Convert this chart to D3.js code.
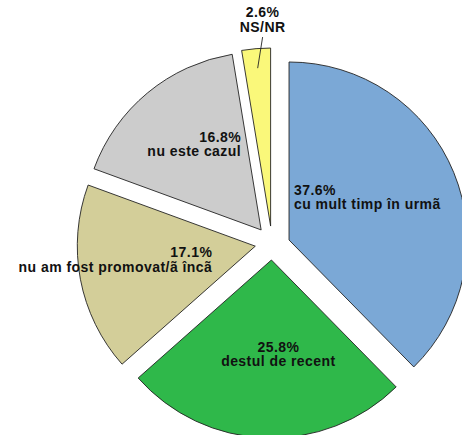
<!DOCTYPE html>
<html>
<head>
<meta charset="utf-8">
<script src="https://cdn.jsdelivr.net/npm/d3@7"></script>
<style>
  html, body { margin: 0; padding: 0; background: #fff; }
  svg { display: block; }
  text { font-family: "Liberation Sans", Arial, Helvetica, sans-serif; font-weight: bold; font-size: 14px; letter-spacing: 0.45px; fill: #111; }
</style>
</head>
<body>
<svg id="chart" width="462" height="435"></svg>
<script>
// ---- data ----
const categories = ["cu mult timp în urmã", "destul de recent", "nu am fost promovat/ã încã", "nu este cazul", "NS/NR"];
const values = [37.6, 25.8, 17.1, 16.8, 2.6];
const valueLabels = ["37.6%", "25.8%", "17.1%", "16.8%", "2.6%"];
const colors = ["#7BA8D6", "#2FB84A", "#D3CE99", "#CCCCCC", "#FAF87A"];

// ---- layout ----
const W = 462, H = 435;
const cx = 272, cy = 243, R = 178;
const explodeDist = [17.3, 17, 17, 17, 17];
const explodeAngleDeg = [80, null, null, null, null];   // null = along mid-angle
// label placement relative to the exploded slice apex
const labelLayout = [
  { dx: 5,   dy: -45,  anchor: "start"  },
  { dx: 7,   dy: 92,   anchor: "middle" },
  { dx: -43, dy: 11,   anchor: "end"    },
  { dx: -20, dy: -88,  anchor: "end"    },
  { dx: -8,  dy: -209, anchor: "middle", leader: true }
];
const lineH = 14.5;

const svg = d3.select("#chart");
const pie = d3.pie().sort(null).value(d => d.value).startAngle(0).endAngle(2 * Math.PI);
const data = categories.map((c, i) => ({ cat: c, value: values[i], label: valueLabels[i], color: colors[i] }));
const arcs = pie(data);
const arc = d3.arc().innerRadius(0).outerRadius(R);

arcs.forEach((a, i) => {
  const mid = (a.startAngle + a.endAngle) / 2;
  const ang = explodeAngleDeg[i] == null ? mid : explodeAngleDeg[i] * Math.PI / 180;
  const ox = cx + explodeDist[i] * Math.sin(ang);
  const oy = cy - explodeDist[i] * Math.cos(ang);
  const g = svg.append("g").attr("transform", `translate(${ox},${oy})`);
  g.append("path")
    .attr("d", arc(a))
    .attr("fill", a.data.color)
    .attr("stroke", "#222")
    .attr("stroke-width", 0.9)
    .attr("stroke-linejoin", "miter");

  const L = labelLayout[i];
  if (L.leader) {
    const r0 = R * 0.89;
    g.append("line")
      .attr("x1", r0 * Math.sin(mid)).attr("y1", -r0 * Math.cos(mid))
      .attr("x2", L.dx).attr("y2", L.dy + 20)
      .attr("stroke", "#222").attr("stroke-width", 0.9);
  }
  const t = g.append("text").attr("text-anchor", L.anchor);
  t.append("tspan").attr("x", L.dx).attr("y", L.dy).text(a.data.label);
  t.append("tspan").attr("x", L.dx).attr("y", L.dy + lineH).text(a.data.cat);
});
</script>
</body>
</html>
